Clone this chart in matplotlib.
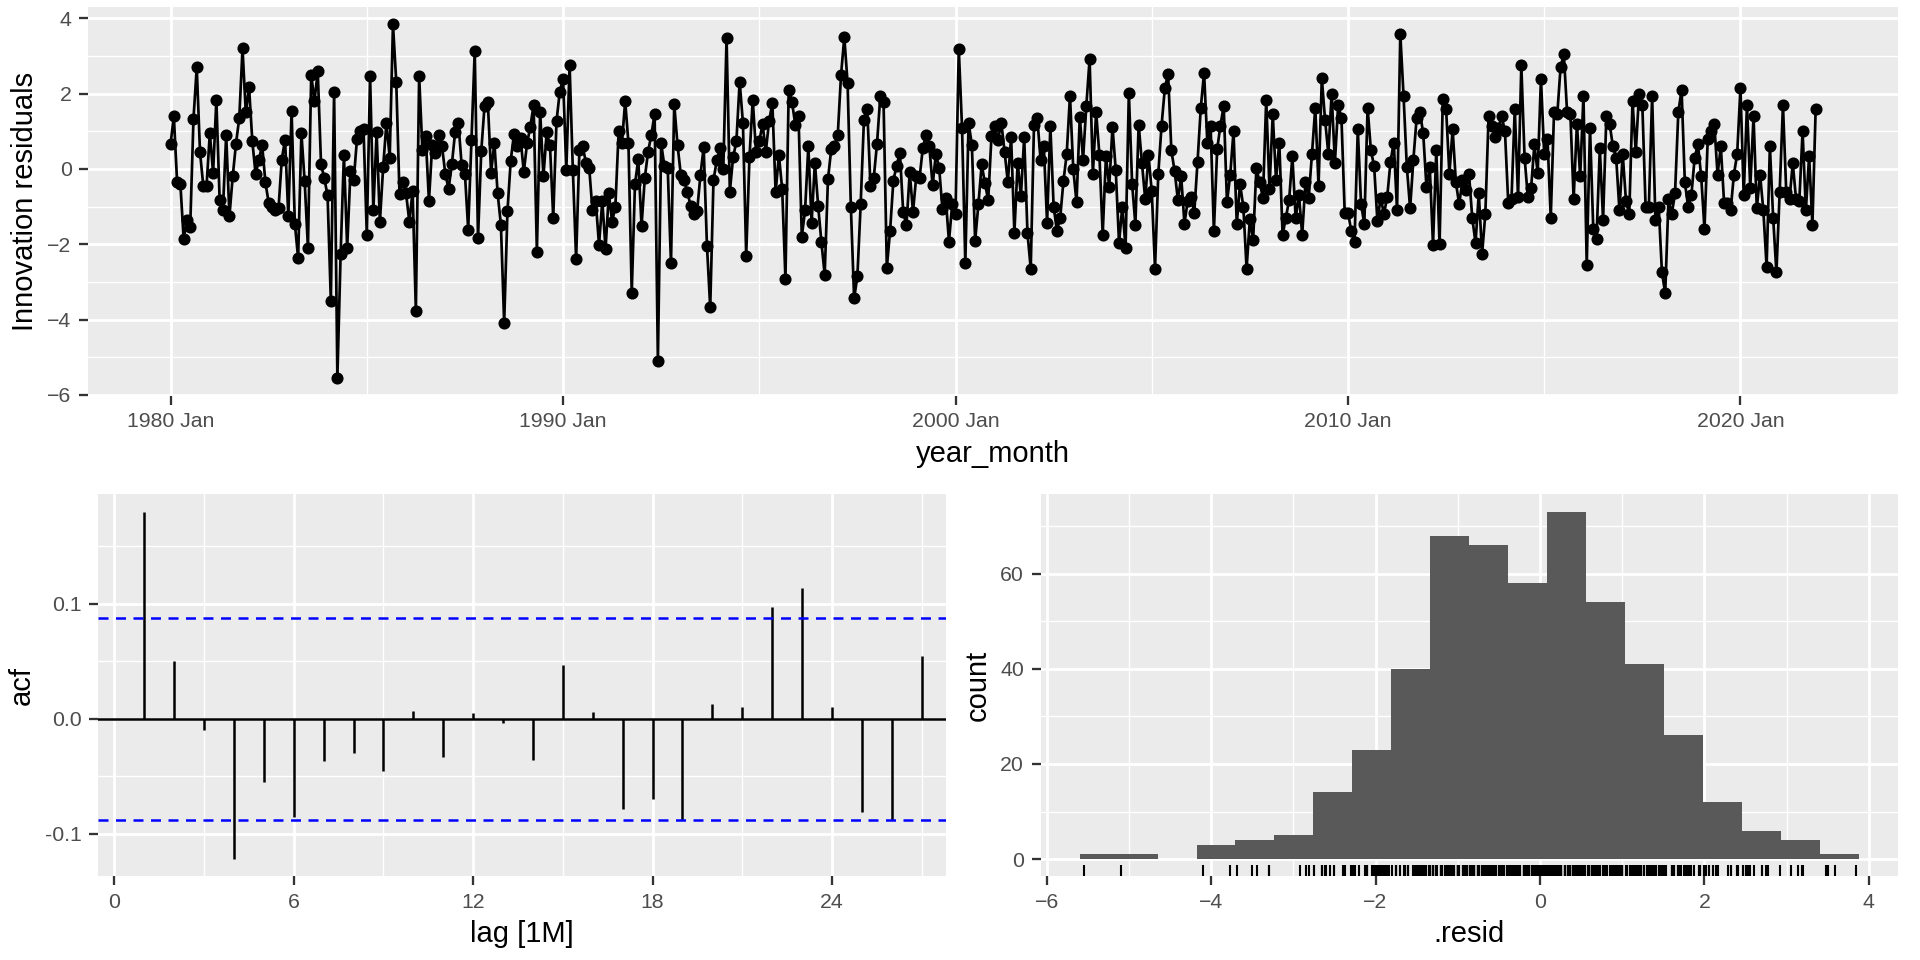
import numpy as np
import matplotlib.pyplot as plt
import matplotlib.transforms as mtransforms
from matplotlib.ticker import FixedLocator, MultipleLocator

# innovation residuals, monthly from 1980 Jan
resid = np.array([
    0.67, 1.4, -0.36, -0.4, -1.87, -1.35, -1.55, 1.33, 2.7, 0.45, -0.45, -0.45,
    0.95, -0.1, 1.83, -0.82, -1.1, 0.9, -1.25, -0.2, 0.67, 1.35, 3.2, 1.5,
    2.17, 0.73, -0.14, 0.25, 0.63, -0.36, -0.9, -1.0, -1.1, -1.05, 0.25, 0.78,
    -1.26, 1.53, -1.46, -2.37, 0.95, -0.33, -2.1, 2.5, 1.8, 2.6, 0.13, -0.25,
    -0.7, -3.5, 2.05, -5.55, -2.25, 0.37, -2.1, -0.06, -0.3, 0.8, 1.0, 1.05,
    -1.75, 2.47, -1.1, 0.97, -1.41, 0.05, 1.23, 0.3, 3.84, 2.32, -0.67, -0.35,
    -0.65, -1.4, -0.59, -3.77, 2.47, 0.5, 0.87, -0.85, 0.64, 0.43, 0.9, 0.6,
    -0.13, -0.53, 0.12, 0.97, 1.23, 0.1, -0.13, -1.61, 0.78, 3.14, -1.84, 0.48,
    1.68, 1.77, -0.1, 0.7, -0.65, -1.48, -4.1, -1.13, 0.22, 0.93, 0.6, 0.82,
    -0.08, 0.68, 1.12, 1.7, -2.2, 1.52, -0.2, 0.97, 0.64, -1.3, 1.27, 2.05,
    2.4, -0.04, 2.77, -0.03, -2.4, 0.49, 0.6, 0.17, 0.03, -1.1, -0.85, -2.02,
    -0.85, -2.13, -0.65, -1.4, -1.0, 1.0, 0.68, 1.81, 0.68, -3.3, -0.4, 0.26,
    -1.52, -0.24, 0.46, 0.9, 1.47, -5.1, 0.68, 0.07, 0.03, -2.51, 1.72, 0.64,
    -0.15, -0.3, -0.6, -0.98, -1.2, -1.12, -0.17, 0.58, -2.04, -3.68, -0.3, 0.23,
    0.55, 0.0, 3.48, -0.6, 0.31, 0.73, 2.32, 1.23, -2.3, 0.31, 1.84, 0.46,
    0.73, 1.2, 0.46, 1.27, 1.75, -0.62, 0.37, -0.53, -2.92, 2.11, 1.78, 1.18,
    1.4, -1.8, -1.1, 0.6, -1.43, 0.17, -0.98, -1.95, -2.81, -0.27, 0.52, 0.6,
    0.91, 2.5, 3.5, 2.29, -1.0, -3.44, -2.85, -0.94, 1.3, 1.6, -0.45, -0.24,
    0.67, 1.93, 1.77, -2.62, -1.64, -0.31, 0.09, 0.43, -1.14, -1.5, -0.09, -1.14,
    -0.2, -0.24, 0.55, 0.91, 0.6, -0.44, 0.4, 0.03, -1.07, -0.76, -1.93, -0.92,
    -1.21, 3.19, 1.09, -2.51, 1.23, 0.64, -1.91, -0.94, 0.12, -0.38, -0.83, 0.88,
    1.15, 0.77, 1.23, 0.46, -0.35, 0.85, -1.7, 0.17, -0.71, 0.85, -1.7, -2.65,
    1.18, 1.36, 0.25, 0.6, -1.43, 1.14, -1.0, -1.64, -1.3, -0.33, 0.4, 1.95,
    0.0, -0.89, 1.39, 0.25, 1.68, 2.92, -0.13, 1.51, 0.37, -1.75, 0.34, -0.47,
    1.12, -0.04, -1.97, -1.0, -2.1, 2.02, -0.4, -1.48, 1.18, 0.16, -0.8, 0.37,
    -0.58, -2.65, -0.13, 1.15, 2.14, 2.53, 0.49, -0.06, -0.83, -0.2, -1.45, -0.85,
    -0.74, -1.16, 0.19, 1.63, 2.56, 0.7, 1.14, -1.66, 0.52, 1.15, 1.68, -0.89,
    -0.15, 1.0, -1.46, -0.4, -1.0, -2.65, -1.34, -1.88, 0.03, -0.36, -0.76, 1.84,
    -0.53, 1.45, -0.29, 0.7, -1.75, -1.3, -0.83, 0.34, -1.3, -0.68, -1.75, -0.36,
    -0.76, 0.41, 1.63, -0.45, 2.41, 1.3, 0.4, 2.0, 0.17, 1.7, 1.36, -1.16,
    -1.16, -1.64, -1.93, 1.06, -0.94, -1.46, 1.63, 0.5, 0.07, -1.39, -0.76, -1.2,
    -0.74, 0.19, 0.7, -1.1, 3.59, 1.93, 0.05, -1.05, 0.25, 1.36, 1.5, 0.95,
    -0.49, 0.05, -2.02, 0.5, -2.0, 1.87, 1.6, -0.13, 1.05, -0.36, -0.94, -0.3,
    -0.56, -0.13, -1.3, -1.97, -0.65, -2.27, -1.19, 1.41, 1.15, 0.86, 1.1, 1.4,
    1.0, -0.9, -0.8, 1.6, -0.75, 2.75, 0.3, -0.75, -0.5, 0.65, -0.1, 2.4,
    0.4, 0.8, -1.3, 1.5, 1.45, 2.7, 3.05, 1.5, 1.45, -0.8, 1.2, -0.2,
    1.95, -2.55, 1.1, -1.6, -1.85, 0.55, -1.35, 1.4, 1.2, 0.6, 0.3, -1.1,
    0.4, -0.85, -1.2, 1.8, 0.45, 2.0, 1.7, -1.0, -1.0, 1.95, -1.35, -1.0,
    -2.75, -3.3, -0.8, -1.2, -0.65, 1.5, 2.1, -0.35, -1.0, -0.7, 0.3, 0.65,
    -0.2, -1.6, 0.8, 1.0, 1.2, -0.15, 0.6, -0.9, -0.9, -1.1, -0.15, 0.4,
    2.15, -0.7, 1.7, -0.5, 1.4, -1.05, -0.15, -1.1, -2.6, 0.6, -1.3, -2.75,
    -0.6, 1.7, -0.6, -0.8, 0.15, -0.8, -0.85, 1.0, -1.1, 0.35, -1.5, 1.6,
])
start_year = 1980
year_ticks = [1980, 1990, 2000, 2010, 2020]

acf_lags = np.arange(1, 28)
acf_vals = np.array([
    0.180, 0.050, -0.010, -0.122, -0.055, -0.085, -0.037, -0.030, -0.045,
    0.007, -0.033, 0.005, -0.004, -0.036, 0.047, 0.006, -0.078, -0.070,
    -0.088, 0.013, 0.010, 0.097, 0.114, 0.010, -0.081, -0.088, 0.055,
])
acf_ci = 0.088

hist_edges = np.linspace(-5.60, 3.88, 21)
hist_counts = np.array([1, 1, 0, 3, 4, 5, 14, 23, 40, 68, 66, 58, 73, 54, 41,
                        26, 12, 6, 4, 1])

BG = '#EBEBEB'
TXT = '#4D4D4D'
TICK_SIZE = 10.2
TITLE_SIZE = 14
plt.rcParams['font.family'] = ['Liberation Sans', 'DejaVu Sans']


def gg_axes(ax):
    ax.set_facecolor(BG)
    for s in ax.spines.values():
        s.set_visible(False)
    ax.grid(which='major', color='white', lw=1.3)
    ax.grid(which='minor', color='white', lw=0.65)
    ax.set_axisbelow(True)
    ax.tick_params(which='major', length=4.5, width=1.1, color='#333333',
                   labelsize=TICK_SIZE, labelcolor=TXT, pad=3.5)
    ax.tick_params(which='minor', length=0)


def expand(lo, hi, f=0.05):
    d = (hi - lo) * f
    return lo - d, hi + d


fig = plt.figure(figsize=(12.8, 6.4), dpi=150)

# time plot
ax1 = fig.add_axes([0.046, 0.588, 0.9425, 0.405])
gg_axes(ax1)
t = start_year + np.arange(len(resid)) / 12
ax1.plot(t, resid, color='black', lw=1.3, zorder=3)
ax1.plot(t, resid, 'o', color='black', ms=4.8, zorder=4)
ax1.set_xlim(*expand(t.min(), t.max()))
ax1.set_ylim(*expand(resid.min(), resid.max()))
ax1.xaxis.set_major_locator(FixedLocator(year_ticks))
ax1.set_xticklabels([f'{y} Jan' for y in year_ticks])
ax1.xaxis.set_minor_locator(FixedLocator([1985, 1995, 2005, 2015]))
ax1.yaxis.set_major_locator(MultipleLocator(2))
ax1.yaxis.set_minor_locator(MultipleLocator(1))
ax1.set_xlabel('year_month', fontsize=TITLE_SIZE, labelpad=4)
ax1.set_ylabel('Innovation residuals', fontsize=TITLE_SIZE, labelpad=4)

# ACF
ax2 = fig.add_axes([0.051, 0.087, 0.4415, 0.398])
gg_axes(ax2)
ax2.vlines(acf_lags, 0, acf_vals, color='black', lw=1.2, zorder=3)
ax2.axhline(0, color='black', lw=1.2, zorder=3)
ax2.axhline(acf_ci, color='blue', lw=1.2, ls=(0, (4, 3)), zorder=3)
ax2.axhline(-acf_ci, color='blue', lw=1.2, ls=(0, (4, 3)), zorder=3)
ax2.set_xlim(-0.55, 27.8)
ax2.set_ylim(*expand(min(acf_vals.min(), -acf_ci), max(acf_vals.max(), acf_ci)))
ax2.xaxis.set_major_locator(MultipleLocator(6))
ax2.xaxis.set_minor_locator(FixedLocator([3, 9, 15, 21, 27]))
ax2.yaxis.set_major_locator(FixedLocator([-0.1, 0.0, 0.1]))
ax2.yaxis.set_minor_locator(FixedLocator([-0.05, 0.05, 0.15]))
ax2.set_yticklabels(['-0.1', '0.0', '0.1'])
ax2.set_xlabel('lag [1M]', fontsize=TITLE_SIZE, labelpad=4)
ax2.set_ylabel('acf', fontsize=TITLE_SIZE, labelpad=4)

# histogram
ax3 = fig.add_axes([0.542, 0.087, 0.4465, 0.398])
gg_axes(ax3)
ax3.bar(hist_edges[:-1], hist_counts, width=np.diff(hist_edges), align='edge',
        color='#595959', edgecolor='none', zorder=3)
trans = mtransforms.blended_transform_factory(ax3.transData, ax3.transAxes)
ax3.vlines(resid, 0, 0.03, transform=trans, color='black', lw=1.0, zorder=4)
ax3.set_xlim(*expand(hist_edges[0], hist_edges[-1]))
ax3.set_ylim(*expand(0, hist_counts.max()))
ax3.xaxis.set_major_locator(MultipleLocator(2))
ax3.xaxis.set_minor_locator(MultipleLocator(1))
ax3.yaxis.set_major_locator(MultipleLocator(20))
ax3.yaxis.set_minor_locator(MultipleLocator(10))
ax3.set_xlabel('.resid', fontsize=TITLE_SIZE, labelpad=4)
ax3.set_ylabel('count', fontsize=TITLE_SIZE, labelpad=4)

fig.savefig('out.png', dpi=150)
